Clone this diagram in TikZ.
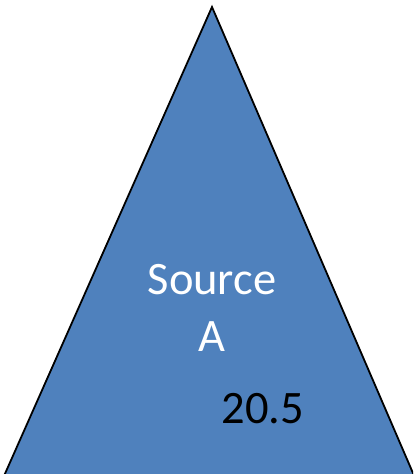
\documentclass[tikz,border=0pt]{standalone}
\usepackage{fontspec}
\setmainfont{Carlito}
\definecolor{officeblue}{HTML}{4F81BD}
\begin{document}
\begin{tikzpicture}[x=1pt,y=1pt,
  lbl/.style={inner sep=0pt, anchor=base, font=\fontsize{46.5}{56}\selectfont}]
\useasboundingbox (0,0) rectangle (413,474);
\begin{scope}
\clip (0,0) rectangle (413,474);
\coordinate (apex) at (212,467);
\coordinate (bl) at (-4,-20);
\coordinate (br) at (422,-20);
\draw[line width=1.8pt, fill=officeblue, line join=miter] (bl) -- (apex) -- (br) -- cycle;
\end{scope}
\node[lbl, text=white] (src) at (212,179) {Source};
\node[lbl, text=white] (a) at (212,122) {A};
\node[lbl, text=black] (val) at (263,50) {20.5};
\end{tikzpicture}
\end{document}
